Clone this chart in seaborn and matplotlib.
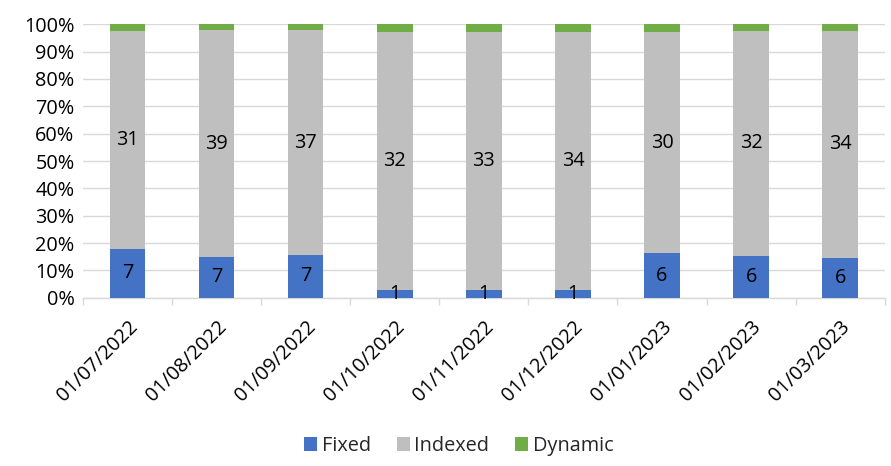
import numpy as np
import pandas as pd
import matplotlib
matplotlib.use("Agg")
import matplotlib.pyplot as plt
from matplotlib.patches import Patch
from matplotlib.ticker import PercentFormatter, FixedLocator
import seaborn as sns

dates = ["01/07/2022", "01/08/2022", "01/09/2022", "01/10/2022", "01/11/2022",
         "01/12/2022", "01/01/2023", "01/02/2023", "01/03/2023"]
fixed = [7, 7, 7, 1, 1, 1, 6, 6, 6]
indexed = [31, 39, 37, 32, 33, 34, 30, 32, 34]
dynamic = [1, 1, 1, 1, 1, 1, 1, 1, 1]

colors = {"Fixed": "#4472C4", "Indexed": "#BFBFBF", "Dynamic": "#70AD47"}

sns.set_theme(style="white")
plt.rcParams["font.family"] = ["Open Sans", "DejaVu Sans"]

df = pd.DataFrame({"date": dates, "Fixed": fixed, "Indexed": indexed, "Dynamic": dynamic})
total = df[["Fixed", "Indexed", "Dynamic"]].sum(axis=1)
df["p_fixed"] = df["Fixed"] / total * 100
df["p_indexed"] = df["Indexed"] / total * 100
df["p_dynamic"] = df["Dynamic"] / total * 100
df["top_indexed"] = df["p_fixed"] + df["p_indexed"]
df["top_dynamic"] = df["top_indexed"] + df["p_dynamic"]

fig = plt.figure(figsize=(8.91, 4.66), dpi=100)
ax = fig.add_axes([0.093, 0.361, 0.900, 0.587])

# Stacked segments drawn as cumulative heights, back to front
for col, key in [("top_dynamic", "Dynamic"), ("top_indexed", "Indexed"), ("p_fixed", "Fixed")]:
    sns.barplot(data=df, x="date", y=col, color=colors[key], width=0.4,
                saturation=1, linewidth=0, edgecolor="none", ax=ax, zorder=3)

fs = 14.3
for i, row in df.iterrows():
    ax.text(i, row["p_fixed"] / 2, str(row["Fixed"]), ha="center", va="center",
            fontsize=fs, color="black", zorder=5)
    ax.text(i, row["p_fixed"] + row["p_indexed"] / 2, str(row["Indexed"]),
            ha="center", va="center", fontsize=fs, color="black", zorder=5)

ax.set_ylim(0, 100)
ax.set_xlim(-0.5, len(dates) - 0.5)
ax.set_yticks(np.arange(0, 101, 10))
ax.yaxis.set_major_formatter(PercentFormatter(decimals=0))
ax.yaxis.grid(True, color="#D9D9D9", linewidth=1, zorder=0)
ax.set_axisbelow(True)
ax.set_xlabel("")
ax.set_ylabel("")

for s in ["top", "right", "left"]:
    ax.spines[s].set_visible(False)
ax.spines["bottom"].set_color("#D9D9D9")
ax.spines["bottom"].set_linewidth(1)

ax.tick_params(axis="y", length=0, labelsize=fs, labelcolor="black", pad=6)
ax.tick_params(axis="x", which="major", length=0, labelsize=fs, labelcolor="black", pad=14)
ax.xaxis.set_minor_locator(FixedLocator(np.arange(-0.5, len(dates), 1)))
ax.tick_params(axis="x", which="minor", length=5, color="#D9D9D9", width=1, bottom=True)
for lbl in ax.get_xticklabels():
    lbl.set_rotation(45)
    lbl.set_ha("right")
    lbl.set_rotation_mode("anchor")

handles = [Patch(facecolor=colors[k], edgecolor="none", label=k) for k in ["Fixed", "Indexed", "Dynamic"]]
fig.legend(handles=handles, loc="center", bbox_to_anchor=(0.515, 0.043), ncol=3,
           frameon=False, fontsize=fs, handlelength=0.65, handleheight=0.65,
           handletextpad=0.25, columnspacing=1.3)

fig.savefig("out.png", dpi=100, facecolor="white")
